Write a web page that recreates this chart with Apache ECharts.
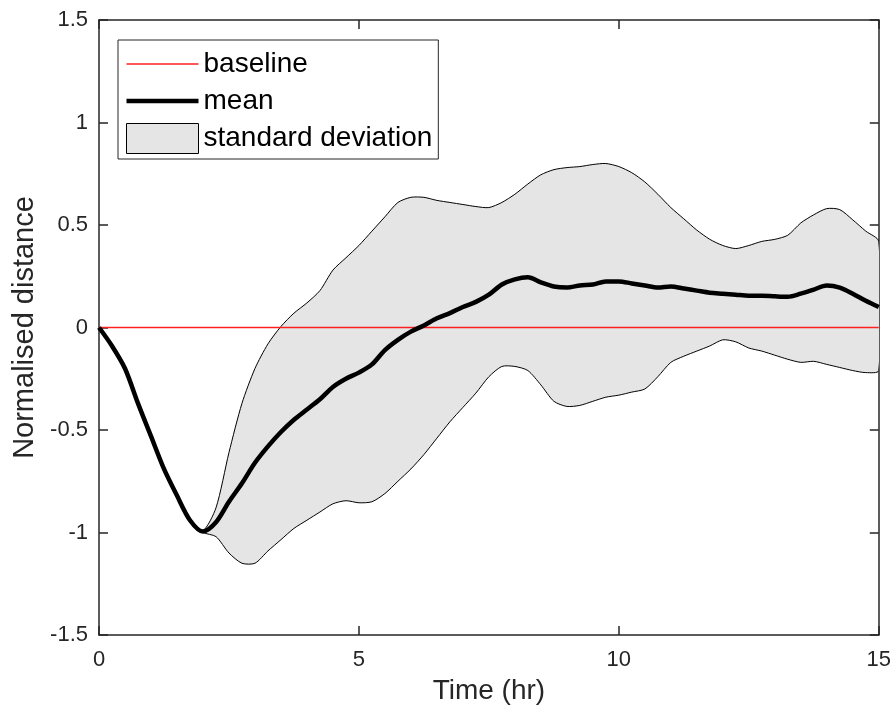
<!DOCTYPE html>
<html>
<head>
<meta charset="utf-8">
<script src="https://cdn.jsdelivr.net/npm/echarts@6/dist/echarts.min.js"></script>
<style>
  html, body { margin: 0; padding: 0; background: #fff; }
  #chart { width: 894px; height: 711px; }
</style>
</head>
<body>
<div id="chart"></div>
<script>
// time grid (hr)
const times = [
  0, 0.25, 0.5, 0.75, 1, 1.25, 1.5, 1.75, 2, 2.25, 2.5, 2.75, 3, 3.25, 3.5, 3.75,
  4, 4.25, 4.5, 4.75, 5, 5.25, 5.5, 5.75, 6, 6.25, 6.5, 6.75, 7, 7.25, 7.5, 7.75,
  8, 8.25, 8.5, 8.75, 9, 9.25, 9.5, 9.75, 10, 10.25, 10.5, 10.75, 11, 11.25, 11.5, 11.75,
  12, 12.25, 12.5, 12.75, 13, 13.25, 13.5, 13.75, 14, 14.25, 14.5, 14.75, 15
]

const meanValues = [
  0, -0.09, -0.20, -0.37, -0.53, -0.69, -0.82, -0.94, -0.995, -0.95, -0.85, -0.76, -0.66, -0.58, -0.51, -0.45,
  -0.40, -0.35, -0.29, -0.25, -0.22, -0.18, -0.11, -0.06, -0.02, 0.01, 0.045, 0.07, 0.10, 0.125, 0.16, 0.21,
  0.235, 0.245, 0.22, 0.20, 0.195, 0.205, 0.21, 0.225, 0.225, 0.215, 0.205, 0.195, 0.20, 0.19, 0.18, 0.17,
  0.165, 0.16, 0.155, 0.155, 0.152, 0.15, 0.165, 0.185, 0.205, 0.195, 0.165, 0.13, 0.10
]

const upperValues = [
  0, -0.08, -0.19, -0.36, -0.52, -0.68, -0.81, -0.93, -0.99, -0.88, -0.61, -0.37, -0.20, -0.08, 0.005, 0.07,
  0.12, 0.18, 0.28, 0.34, 0.40, 0.47, 0.54, 0.61, 0.635, 0.635, 0.62, 0.61, 0.60, 0.59, 0.585, 0.61,
  0.65, 0.70, 0.745, 0.77, 0.78, 0.785, 0.795, 0.80, 0.785, 0.755, 0.71, 0.65, 0.585, 0.53, 0.475, 0.43,
  0.40, 0.385, 0.40, 0.42, 0.43, 0.45, 0.51, 0.55, 0.58, 0.575, 0.525, 0.47, 0.42
]

const lowerValues = [
  0, -0.10, -0.21, -0.38, -0.54, -0.70, -0.83, -0.95, -1.0, -1.02, -1.10, -1.15, -1.15, -1.09, -1.035, -0.98,
  -0.94, -0.90, -0.86, -0.845, -0.855, -0.85, -0.81, -0.75, -0.69, -0.62, -0.54, -0.46, -0.39, -0.32, -0.24, -0.19,
  -0.19, -0.21, -0.28, -0.36, -0.385, -0.38, -0.36, -0.34, -0.33, -0.315, -0.30, -0.24, -0.17, -0.14, -0.115, -0.09,
  -0.06, -0.07, -0.10, -0.115, -0.135, -0.155, -0.17, -0.165, -0.18, -0.195, -0.21, -0.22, -0.21
]

const baselineX = [0, 15]
const baselineY = [0, 0]

const xTicks = [0, 5, 10, 15]
const yTicks = [-1.5, -1, -0.5, 0, 0.5, 1, 1.5]

const FONT = '"Liberation Sans", Arial, sans-serif'
const AXIS_COLOR = '#262626'
const BAND_FILL = '#e5e5e5'
const RED = '#ff2020'

const pairs = (xs, ys) => xs.map((x, i) => [x, ys[i]])

const axisCommon = {
  axisLine: { show: true, onZero: false, lineStyle: { color: AXIS_COLOR, width: 1.5 } },
  axisTick: { show: true, inside: true, length: 9, lineStyle: { color: AXIS_COLOR, width: 1.5 } },
  splitLine: { show: false }
}

// polygon: upper edge left->right, then lower edge right->left
const renderBand = (params, api) => {
  const top = times.map((t, i) => api.coord([t, upperValues[i]]))
  const bottom = times.map((t, i) => api.coord([t, lowerValues[i]])).reverse()
  return {
    type: 'polygon',
    shape: { points: top.concat(bottom), smooth: 0.25 },
    style: { fill: BAND_FILL, stroke: '#000', lineWidth: 1 }
  }
}

const chart = echarts.init(document.getElementById('chart'))

const option = {
  animation: false,
  backgroundColor: '#fff',
  grid: { left: 99, top: 20, right: 14, bottom: 76 },
  legend: {
    left: 118,
    top: 40,
    orient: 'vertical',
    padding: [9, 6, 5, 8],
    itemGap: 7,
    itemWidth: 72,
    itemHeight: 30,
    borderColor: AXIS_COLOR,
    borderWidth: 1,
    backgroundColor: '#fff',
    textStyle: { fontFamily: FONT, fontSize: 28, color: '#000', lineHeight: 30 },
    data: [
      { name: 'baseline', icon: 'path://M0,0L72,0L72,1.3L0,1.3Z' },
      { name: 'mean', icon: 'path://M0,0L72,0L72,4.5L0,4.5Z' },
      {
        name: 'standard deviation',
        icon: 'rect',
        itemStyle: { color: BAND_FILL, borderColor: '#000', borderWidth: 1 }
      }
    ]
  },
  xAxis: [
    {
      type: 'value',
      min: xTicks[0],
      max: xTicks[xTicks.length - 1],
      interval: 5,
      name: 'Time (hr)',
      nameLocation: 'middle',
      nameGap: 42,
      nameTextStyle: { fontFamily: FONT, fontSize: 28, color: AXIS_COLOR },
      axisLabel: { fontFamily: FONT, fontSize: 22, color: AXIS_COLOR, margin: 14 },
      ...axisCommon
    },
    {
      type: 'value',
      position: 'top',
      min: xTicks[0],
      max: xTicks[xTicks.length - 1],
      interval: 5,
      axisLabel: { show: false },
      ...axisCommon
    }
  ],
  yAxis: [
    {
      type: 'value',
      min: yTicks[0],
      max: yTicks[yTicks.length - 1],
      interval: 0.5,
      name: 'Normalised distance',
      nameLocation: 'middle',
      nameGap: 47,
      nameTextStyle: { fontFamily: FONT, fontSize: 29, color: AXIS_COLOR },
      axisLabel: { fontFamily: FONT, fontSize: 22, color: AXIS_COLOR, margin: 11 },
      ...axisCommon
    },
    {
      type: 'value',
      position: 'right',
      min: yTicks[0],
      max: yTicks[yTicks.length - 1],
      interval: 0.5,
      axisLabel: { show: false },
      ...axisCommon
    }
  ],
  series: [
    {
      name: 'standard deviation',
      type: 'custom',
      data: [[0, 0]],
      renderItem: renderBand,
      clip: true,
      silent: true,
      itemStyle: { color: BAND_FILL }
    },
    {
      name: 'baseline',
      type: 'line',
      color: RED,
      data: pairs(baselineX, baselineY),
      symbol: 'none',
      z: 5,
      itemStyle: { color: RED },
      lineStyle: { color: RED, width: 1.3 }
    },
    {
      name: 'mean',
      type: 'line',
      data: pairs(times, meanValues),
      symbol: 'none',
      smooth: 0.3,
      z: 6,
      itemStyle: { color: '#000' },
      lineStyle: { color: '#000', width: 4.5 }
    }
  ]
}

chart.setOption(option)
</script>
</body>
</html>
